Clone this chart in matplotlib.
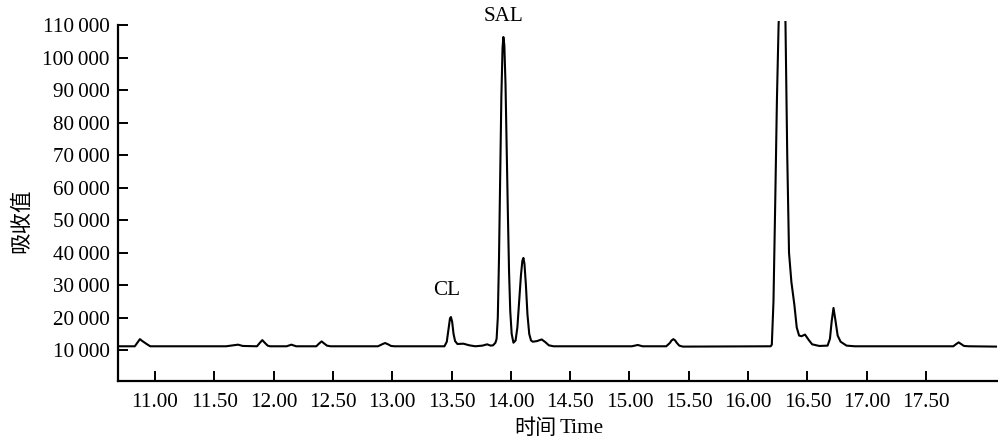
import matplotlib
matplotlib.use("Agg")
import matplotlib.pyplot as plt
from matplotlib.ticker import FuncFormatter

# Trace (time in min, absorbance)
time = [10.69, 10.83, 10.85, 10.873, 10.89, 10.91, 10.93, 10.96,
        11.60, 11.66, 11.70, 11.74, 11.86, 11.885, 11.905, 11.925, 11.95, 11.97,
        12.11, 12.15, 12.19, 12.36, 12.385, 12.405, 12.425, 12.45, 12.48,
        12.88, 12.92, 12.94, 12.965, 12.99, 13.02,
        13.44, 13.46, 13.475, 13.487, 13.495, 13.505, 13.517, 13.53, 13.55,
        13.60, 13.65, 13.70, 13.76, 13.80, 13.83, 13.85, 13.87, 13.88,
        13.89, 13.90, 13.91, 13.92, 13.93, 13.937, 13.945, 13.955, 13.965,
        13.975, 13.985, 13.995, 14.007, 14.022, 14.04, 14.055, 14.07, 14.085,
        14.097, 14.106, 14.115, 14.127, 14.14, 14.155, 14.17, 14.185,
        14.22, 14.26, 14.29, 14.32, 14.36,
        15.02, 15.07, 15.11, 15.31, 15.34, 15.355, 15.37, 15.385, 15.40, 15.42, 15.45,
        16.19, 16.20, 16.214, 16.229, 16.243, 16.257, 16.285, 16.315, 16.33, 16.345,
        16.365, 16.39, 16.41, 16.43, 16.45, 16.48, 16.51, 16.54, 16.60, 16.67,
        16.69, 16.705, 16.72, 16.735, 16.755, 16.78, 16.83, 16.90,
        17.73, 17.755, 17.775, 17.795, 17.82, 17.86, 18.10]
absorb = [11200, 11200, 12200, 13400, 12900, 12400, 11900, 11200,
          11200, 11500, 11700, 11300, 11200, 12300, 13100, 12300, 11400, 11200,
          11200, 11700, 11200, 11200, 12100, 12700, 12100, 11400, 11200,
          11200, 11900, 12200, 11800, 11300, 11200,
          11200, 12600, 16500, 19800, 20200, 18800, 15000, 12800, 11900,
          12000, 11500, 11200, 11400, 11800, 11400, 11500, 12300, 13500,
          20000, 38000, 62000, 88000, 103000, 106400, 104000, 92000, 72000,
          52000, 34000, 22000, 15000, 12300, 13000, 17000, 25000, 33000,
          37500, 38400, 36500, 30000, 21000, 15000, 13000, 12600,
          12800, 13300, 12500, 11500, 11200,
          11200, 11600, 11200, 11200, 12200, 13000, 13400, 13000, 12200, 11400, 11100,
          11200, 11700, 25000, 56000, 87000, 110000, 135000, 111000, 70000, 40000,
          31000, 24000, 17000, 14500, 14300, 14800, 13200, 11800, 11300, 11400,
          13500, 19000, 23000, 19500, 14500, 12600, 11400, 11200,
          11200, 11900, 12400, 11900, 11300, 11200, 11100]

xticks = [11.00, 11.50, 12.00, 12.50, 13.00, 13.50, 14.00, 14.50,
          15.00, 15.50, 16.00, 16.50, 17.00, 17.50]
yticks = [10000, 20000, 30000, 40000, 50000, 60000, 70000, 80000,
          90000, 100000, 110000]
peak_labels = ["CL", "SAL"]
peak_label_x = [13.46, 13.937]
peak_label_y = [28300, 112800]

serif = ["Liberation Serif", "DejaVu Serif"]
cjk = ["Noto Sans CJK SC", "DejaVu Sans"]

fig = plt.figure(figsize=(9.98, 4.41), dpi=100)
ax = fig.add_axes([0.1182, 0.1367, 0.881, 0.8147])

ax.plot(time, absorb, color="black", linewidth=1.5, solid_joinstyle="round")

ax.set_xlim(10.688, 18.10)
ax.set_ylim(600, 111200)
ax.spines["top"].set_visible(False)
ax.spines["right"].set_visible(False)
ax.spines["left"].set_linewidth(1.6)
ax.spines["bottom"].set_linewidth(1.6)
ax.spines["left"].set_bounds(600, 110000)

ax.set_xticks(xticks)
ax.set_yticks(yticks)
ax.xaxis.set_major_formatter(FuncFormatter(lambda v, p: f"{v:.2f}"))
ax.yaxis.set_major_formatter(
    FuncFormatter(lambda v, p: f"{int(v):,}".replace(",", "\u2009")))
ax.tick_params(axis="both", direction="in", length=7, width=1.4,
               labelsize=15.2, colors="black")
ax.tick_params(axis="x", pad=9)
ax.tick_params(axis="y", pad=6)
for lab in ax.get_xticklabels() + ax.get_yticklabels():
    lab.set_family(serif)

for txt, px, py in zip(peak_labels, peak_label_x, peak_label_y):
    ax.text(px, py, txt, ha="center", va="center", fontsize=15.2,
            family=serif, clip_on=False)

fig.text(0.021, 0.50, "吸收值", rotation=90, ha="center", va="center",
         fontsize=15.5, family=cjk)
fig.text(0.5575, 0.029, "时间", ha="right", va="center", fontsize=15.2,
         family=cjk)
fig.text(0.5605, 0.029, "Time", ha="left", va="center", fontsize=15.2,
         family=serif)

fig.savefig("out.png", dpi=100)
